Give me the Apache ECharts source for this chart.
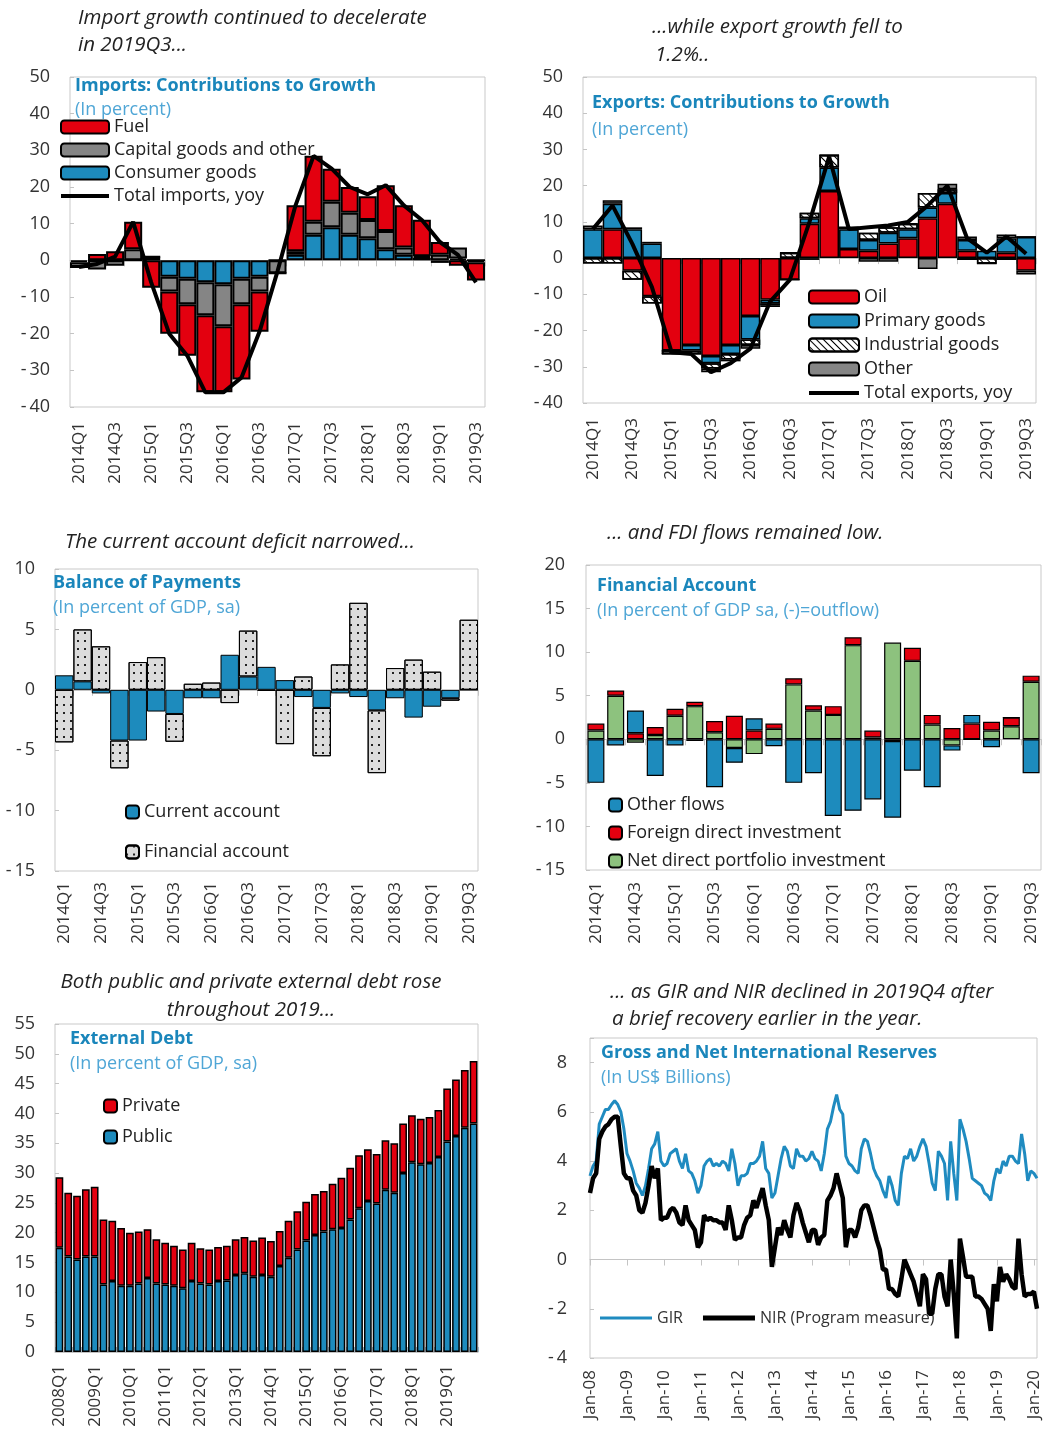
<!DOCTYPE html>
<html>
<head>
<meta charset="utf-8">
<script src="https://cdn.jsdelivr.net/npm/echarts@6/dist/echarts.min.js"></script>
<style>
  html, body { margin: 0; background: #fff; }
  #main { width: 1045px; height: 1437px; }
</style>
</head>
<body>
<div id="main"></div>
<script>
// quarterly categories for the four top panels
const quarters = ['2014Q1','2014Q2','2014Q3','2014Q4','2015Q1','2015Q2','2015Q3','2015Q4',
  '2016Q1','2016Q2','2016Q3','2016Q4','2017Q1','2017Q2','2017Q3','2017Q4',
  '2018Q1','2018Q2','2018Q3','2018Q4','2019Q1','2019Q2','2019Q3'];

// imports contributions
const impConsumer = [-0.5, 0, 0, 0, 1, -4.5, -5, -6, -6.5, -5, -4.5, 0, 1.5, 7, 9, 7, 6, 3, 1.5, 0.7, -0.7, 0.5, 0];
const impCapital  = [-1.3, -2.5, -1.5, 3, 0, -4, -7, -9, -11.5, -7, -4, -3.5, 1, 3.5, 7, 6, 5, 5, 2, 0.4, 1.5, 3, -0.5];
const impFuel     = [0, 1.7, 2.5, 7.5, -7.5, -11.5, -14, -21, -18, -20.5, -11, 0, 12.5, 18, 9, 7, 6.5, 12.5, 11.5, 10, 3.5, -1.5, -5];
const impTotal    = [-1.8, -1, 1, 10.5, -6, -20, -26, -36, -36, -32, -19.5, -3, 15, 28.5, 25, 20, 18, 20.5, 15, 11, 5, 1.5, -6];

// exports contributions
const expOil        = [0, 8, -3.5, -10.5, -25.5, -24, -27, -24, -16, -11.5, -6, 9.5, 18.5, 2.5, 2, 4, 5.5, 11, 15, 2, 0, 1.5, -3.5];
const expPrimary    = [8, 7, 8, 4, 0, -1.5, -2, -2.5, -6.5, -1, 0, 1.5, 6.5, 5.5, 3, 3, 2.5, 3, 3, 3, 2, 4, 5.8];
const expIndustrial = [-1.5, -1.5, -2.5, -2, -1, -1, -1.5, -1.5, -1.5, -0.5, 1.5, 1.5, 3.5, 0.5, 2, 1.5, 1.5, 4, 1, -0.5, -1.5, -0.5, 0];
const expOther      = [1, 1, 0.5, 0.5, 0, 0, -1, -0.5, -1, -0.5, 0, -0.5, 0, 0, -1, -1, 0, -3, 1.5, 1, 0, 1, -1];
const expTotal      = [8, 14.5, 4, -8, -26, -26.5, -31.5, -29, -25, -12, -6, 10, 28, 8, 8.5, 9, 10, 14.5, 20, 5.5, 1.5, 6, 1.2];

// balance of payments
const bopCurrent   = [1.2, 0.7, -0.3, -4.2, -4.2, -1.8, -2, -0.7, -0.7, 2.9, 1.1, 1.9, 0.8, -0.6, -1.5, -0.3, -0.6, -1.7, -0.7, -2.3, -1.4, -0.7, 0];
const bopFinancial = [-4.35, 4.3, 3.6, -2.3, 2.3, 2.7, -2.3, 0.5, 0.6, -1.1, 3.8, -0.1, -4.5, 1.1, -4, 2.1, 7.2, -5.2, 1.8, 2.5, 1.5, -0.2, 5.8];

// financial account
const faOther     = [-5, -0.7, 2.6, -4.2, -0.7, -0.2, -5.5, -1.7, 1.4, -0.8, -5, -3.9, -8.8, -8.2, -6.9, -8.8, -3.6, -5.5, -0.6, 1, -0.9, 0, -3.9];
const faFdi       = [0.8, 0.6, 0.7, 0.9, 0.8, 0.5, 1.3, 2.7, 1, 0.6, 0.7, 0.6, 1, 0.9, 0.8, -0.2, 1.5, 1.1, 1.3, 1.8, 1, 1, 0.7];
const faPortfolio = [1, 5, -0.4, 0.5, 2.7, 3.8, 0.8, -1, -1.7, 1.2, 6.3, 3.3, 2.8, 10.8, 0.2, 11.1, 9, 1.7, -0.7, 0, 1, 1.5, 6.6];

// external debt, 2008Q1 - 2019Q4
const debtQuarters = [];
for (let y = 2008; y <= 2019; y++) for (let q = 1; q <= 4; q++) debtQuarters.push(y + 'Q' + q);
const debtPublic = [17.5, 16, 15.5, 16, 16, 11.3, 11.9, 11.1, 11.1, 11.5, 12.4, 11.5,
  11.3, 11.1, 10.7, 11.9, 11.5, 11.3, 11.9, 12, 12.9, 13.2, 12.6, 12.9,
  12.6, 14.4, 15.8, 17.2, 18.7, 19.6, 20.2, 20.6, 20.8, 22.2, 24.1, 25.3,
  24.9, 27.2, 26.7, 30, 31.8, 31.5, 31.7, 32.7, 35.3, 36.2, 37.6, 38.3];
const debtPrivate = [11.8, 10.7, 10.7, 11.3, 11.7, 10.9, 10.1, 9.7, 8.9, 8.7, 8.2, 7.4,
  7.0, 6.7, 6.5, 6.4, 5.9, 5.9, 5.7, 5.8, 6.0, 6.1, 6.1, 6.3,
  6.0, 5.9, 6.2, 6.4, 6.5, 6.9, 6.8, 7.6, 8.4, 8.7, 8.9, 8.7,
  8.3, 8.3, 8.3, 8.3, 7.9, 7.6, 7.7, 7.9, 8.9, 9.5, 9.7, 10.5];

// reserves, monthly Jan-08 - Feb-20
const monthNames = ['Jan','Feb','Mar','Apr','May','Jun','Jul','Aug','Sep','Oct','Nov','Dec'];
const months = [];
for (let y = 8; y <= 20; y++) for (let m = 0; m < 12; m++) {
  if (months.length < 146) months.push(monthNames[m] + '-' + String(y).padStart(2, '0'));
}
const gir = [3.4,3.8,4.0,5.5,5.8,6.1,6.1,6.3,6.45,6.3,6.0,5.3,
  4.3,4.0,3.6,3.1,2.9,2.6,3.0,3.7,4.5,4.7,5.2,4.0,
  3.8,3.9,4.3,4.4,4.5,4.0,3.7,4.3,3.6,3.5,3.2,2.7,
  3.0,3.8,4.0,4.1,3.8,3.9,3.8,4.0,3.9,3.6,4.5,3.9,
  3.0,3.4,3.4,3.5,3.9,3.9,4.0,4.2,4.8,3.7,3.5,2.5,
  2.7,3.4,4.1,4.6,4.4,3.8,3.7,4.5,4.2,4.2,4.0,4.1,
  4.4,4.1,4.0,3.6,4.3,5.3,5.6,6.2,6.7,6.1,5.9,4.2,
  3.9,3.8,3.6,3.5,4.5,4.9,4.8,4.3,3.7,3.4,3.2,2.8,
  2.5,3.4,3.0,2.4,2.2,3.5,4.2,4.1,4.5,4.0,4.2,4.6,
  4.9,4.6,3.9,3.1,2.8,4.4,4.2,3.9,2.4,4.8,3.5,2.4,
  5.7,5.3,4.8,4.1,3.3,3.2,3.1,3.0,2.7,2.6,2.4,3.2,
  3.7,3.5,4.0,3.8,4.2,4.2,4.0,3.9,5.1,4.3,3.2,3.6,
  3.5,3.3];
const nir = [2.7,3.3,3.5,4.9,5.2,5.4,5.5,5.7,5.8,5.8,4.6,3.5,
  3.3,3.3,2.8,2.6,2.0,1.9,2.3,3.0,3.8,3.3,3.7,1.6,
  1.7,1.7,2.0,2.1,1.9,1.5,1.4,2.2,1.6,1.4,1.2,0.5,
  0.7,1.8,1.6,1.7,1.6,1.6,1.5,1.5,1.2,2.2,1.6,0.8,
  0.9,0.9,1.4,1.7,1.8,2.4,2.1,2.5,2.9,2.2,1.6,-0.3,
  0.5,1.3,1.0,1.6,1.2,0.9,1.8,2.3,2.0,1.5,1.1,0.7,
  1.2,1.2,0.6,0.9,1.0,2.4,2.6,2.9,3.5,3.0,2.5,0.5,
  1.2,1.2,0.9,1.3,2.0,2.2,2.2,1.8,1.3,0.8,0.4,-0.4,
  -0.4,-1.2,-1.2,-1.4,-1.5,-0.8,0.0,-0.3,-0.6,-0.9,-1.4,-1.9,
  -0.6,-0.8,-2.2,-2.2,-1.2,-0.6,-0.6,-1.5,-1.9,0.0,-1.4,-3.2,
  0.85,0.1,-0.7,-0.7,-0.7,-1.5,-1.5,-1.6,-1.8,-2.0,-2.9,-1.0,
  -1.7,-0.3,-0.9,-0.6,-0.8,-1.1,-1.2,0.85,-0.6,-1.5,-1.4,-1.4,
  -1.3,-2.0];

const FONT = '"Open Sans", sans-serif';
const TXT = '#333';
const RED = '#e3000f';
const BLUE = '#1d8bbd';
const GRAY = '#858585';
const GREEN = '#8dc27e';
const TITLE = '#1a86bb';
const SUB = '#4fa6d6';
const LINEGRAY = '#c4c4c4';

const chart = echarts.init(document.getElementById('main'));

// grids: left, top, width, height in px
const grids = [
  { left: 70,  top: 77,   width: 415, height: 330 },
  { left: 583, top: 77,   width: 453, height: 326 },
  { left: 55,  top: 569,  width: 423, height: 302 },
  { left: 586, top: 565,  width: 455, height: 305 },
  { left: 55,  top: 1024, width: 423, height: 328 },
  { left: 590, top: 1038, width: 447, height: 320 }
].map(g => Object.assign({ show: true, borderColor: '#c9c9c9', borderWidth: 1, containLabel: false }, g));

function labelAxis(gi, data, interval, margin, extra) {
  return Object.assign({
    type: 'category', gridIndex: gi, data: data,
    axisLine: { show: false, onZero: false },
    axisTick: { show: false },
    splitLine: { show: false },
    axisLabel: { rotate: 90, interval: interval, margin: margin, fontSize: 17, color: TXT, fontFamily: FONT }
  }, extra || {});
}
function zeroAxis(gi, data, tickInterval, extra) {
  return Object.assign({
    type: 'category', gridIndex: gi, data: data,
    axisLine: { show: true, onZero: true, lineStyle: { color: LINEGRAY, width: 1 } },
    axisTick: { show: true, inside: true, length: 6, interval: tickInterval, lineStyle: { color: LINEGRAY } },
    axisLabel: { show: false },
    splitLine: { show: false }
  }, extra || {});
}
// hyphen followed by a thin space, as in the source's tick labels
const signed = v => (v < 0 ? '-\u2009' + Math.abs(v) : String(v));
function valueAxis(gi, min, max, interval, margin, fmt) {
  return {
    type: 'value', gridIndex: gi, min: min, max: max, interval: interval,
    axisLine: { show: false },
    axisTick: { show: true, inside: true, length: 4, lineStyle: { color: LINEGRAY } },
    splitLine: { show: false },
    axisLabel: { fontSize: 18, color: TXT, margin: margin, fontFamily: FONT, formatter: fmt || signed }
  };
}

const xAxis = [
  labelAxis(0, quarters, 1, 15), zeroAxis(0, quarters, 0),
  labelAxis(1, quarters, 1, 15), zeroAxis(1, quarters, 0),
  labelAxis(2, quarters, 1, 11), zeroAxis(2, quarters, 0),
  labelAxis(3, quarters, 1, 12), zeroAxis(3, quarters, 0),
  {
    type: 'category', gridIndex: 4, data: debtQuarters,
    axisLine: { show: true, onZero: false, lineStyle: { color: LINEGRAY } },
    axisTick: { show: true, inside: true, length: 5, interval: 0, lineStyle: { color: '#9fb9c8' } },
    axisLabel: { rotate: 90, interval: 3, margin: 13, fontSize: 17, color: TXT, fontFamily: FONT }
  },
  labelAxis(5, months, 11, 12, { boundaryGap: false }),
  zeroAxis(5, months, 11, { boundaryGap: false })
];
const yAxis = [
  valueAxis(0, -40, 50, 10, 20),
  valueAxis(1, -40, 50, 10, 20),
  valueAxis(2, -15, 10, 5, 20),
  valueAxis(3, -15, 20, 5, 21),
  valueAxis(4, 0, 55, 5, 20),
  valueAxis(5, -4, 9, 2, 23, v => (v === 9 ? '' : signed(v)))
];

function bar(name, xi, stack, data, color, opts) {
  opts = opts || {};
  const item = { color: color, borderColor: '#000', borderWidth: opts.bw || 1.5 };
  if (opts.decal) item.decal = opts.decal;
  return {
    name: name, type: 'bar', xAxisIndex: xi, yAxisIndex: opts.yi, stack: stack, data: data,
    barCategoryGap: opts.gap || '0%', itemStyle: item, emphasis: { disabled: true }
  };
}
function line(name, xi, yi, data, color, width) {
  return {
    name: name, type: 'line', xAxisIndex: xi, yAxisIndex: yi, data: data, z: 5,
    symbol: 'none', lineStyle: { color: color, width: width }, itemStyle: { color: color },
    emphasis: { disabled: true }
  };
}

const hatch = { symbol: 'rect', symbolSize: 1, dashArrayX: [1, 0], dashArrayY: [1, 3.5], rotation: Math.PI / 4, color: '#000' };
const dots = { symbol: 'rect', symbolSize: 1, dashArrayX: [2, 5], dashArrayY: [2, 6], color: '#222' };

const series = [
  // imports
  bar('Consumer goods', 0, 'imp', impConsumer, BLUE, { yi: 0, bw: 2 }),
  bar('Capital goods and other', 0, 'imp', impCapital, GRAY, { yi: 0, bw: 2 }),
  bar('Fuel', 0, 'imp', impFuel, RED, { yi: 0, bw: 2 }),
  line('Total imports, yoy', 0, 0, impTotal, '#000', 4),
  // exports
  bar('Oil', 2, 'exp', expOil, RED, { yi: 1, bw: 1.5 }),
  bar('Primary goods', 2, 'exp', expPrimary, BLUE, { yi: 1, bw: 1.5 }),
  bar('Industrial goods', 2, 'exp', expIndustrial, '#fff', { yi: 1, bw: 1.5, decal: hatch }),
  bar('Other', 2, 'exp', expOther, GRAY, { yi: 1, bw: 1.5 }),
  line('Total exports, yoy', 2, 1, expTotal, '#000', 4),
  // balance of payments
  bar('Current account', 4, 'bop', bopCurrent, BLUE, { yi: 2, bw: 1 }),
  bar('Financial account', 4, 'bop', bopFinancial, '#dcdcdc', { yi: 2, bw: 1, decal: dots }),
  // financial account
  bar('Net direct portfolio investment', 6, 'fa', faPortfolio, GREEN, { yi: 3, bw: 1.2, gap: '14%' }),
  bar('Foreign direct investment', 6, 'fa', faFdi, RED, { yi: 3, bw: 1.2, gap: '14%' }),
  bar('Other flows', 6, 'fa', faOther, BLUE, { yi: 3, bw: 1.2, gap: '14%' }),
  // external debt
  bar('Public', 8, 'debt', debtPublic, BLUE, { yi: 4, bw: 1.5, gap: '12%' }),
  bar('Private', 8, 'debt', debtPrivate, RED, { yi: 4, bw: 1.5, gap: '12%' }),
  // reserves
  line('GIR', 9, 5, gir, '#1f8bc0', 3),
  line('NIR (Program measure)', 9, 5, nir, '#000', 4.5)
];

const lineIcon = (w, h) => 'path://M0,0H' + w + 'V' + h + 'H0Z';
const legTxt = { fontSize: 18, color: '#222', fontFamily: FONT };
const legBase = { selectedMode: false, padding: 0, textStyle: legTxt };
const legend = [
  Object.assign({}, legBase, { orient: 'vertical', left: 60, top: 118, itemWidth: 48, itemHeight: 13, itemGap: 5,
    data: ['Fuel', 'Capital goods and other', 'Consumer goods',
      { name: 'Total imports, yoy', icon: lineIcon(48, 4), itemStyle: { color: '#000', borderWidth: 0 } }] }),
  Object.assign({}, legBase, { orient: 'vertical', left: 808, top: 288, itemWidth: 50, itemHeight: 13, itemGap: 6,
    data: ['Oil', 'Primary goods', 'Industrial goods', 'Other',
      { name: 'Total exports, yoy', icon: lineIcon(50, 4), itemStyle: { color: '#000', borderWidth: 0 } }] }),
  Object.assign({}, legBase, { orient: 'vertical', left: 125, top: 803, itemWidth: 13, itemHeight: 13, itemGap: 22,
    data: ['Current account', 'Financial account'] }),
  Object.assign({}, legBase, { orient: 'vertical', left: 608, top: 796, itemWidth: 13, itemHeight: 13, itemGap: 10,
    data: ['Other flows', 'Foreign direct investment', 'Net direct portfolio investment'] }),
  Object.assign({}, legBase, { orient: 'vertical', left: 103, top: 1097, itemWidth: 13, itemHeight: 13, itemGap: 13,
    data: ['Private', 'Public'] }),
  Object.assign({}, legBase, { orient: 'horizontal', left: 600, top: 1310, itemWidth: 52, itemHeight: 14, itemGap: 20,
    textStyle: { fontSize: 16, color: '#333', fontFamily: FONT },
    data: [
      { name: 'GIR', icon: lineIcon(52, 3), itemStyle: { color: '#1f8bc0', borderWidth: 0 } },
      { name: 'NIR (Program measure)', icon: lineIcon(52, 5), itemStyle: { color: '#000', borderWidth: 0 } }
    ] })
];

function txt(x, y, text, font, color, align) {
  return { type: 'text', x: x, y: y, silent: true,
    style: { text: text, font: font, fill: color, textAlign: align || 'left', textVerticalAlign: 'middle',
      align: align || 'left', verticalAlign: 'middle' } };
}
const CAP = 'italic 20.5px ' + FONT;
const TTL = 'bold 18px ' + FONT;
const SBT = '18px ' + FONT;
const graphic = [
  txt(78, 18, 'Import growth continued to decelerate', CAP, '#222'),
  txt(78, 45, 'in 2019Q3...', CAP, '#222'),
  txt(75, 86, 'Imports: Contributions to Growth', TTL, TITLE),
  txt(75, 110, '(In percent)', SBT, SUB),

  txt(652, 27, '...while export growth fell to', CAP, '#222'),
  txt(655, 55, '1.2%..', CAP, '#222'),
  txt(592, 103, 'Exports: Contributions to Growth', TTL, TITLE),
  txt(592, 130, '(In percent)', SBT, SUB),

  txt(65, 542, 'The current account deficit narrowed...', CAP, '#222'),
  txt(53, 583, 'Balance of Payments', TTL, TITLE),
  txt(53, 608, '(In percent of GDP, sa)', SBT, SUB),

  txt(607, 533, '... and FDI flows remained low.', CAP, '#222'),
  txt(597, 586, 'Financial Account', TTL, TITLE),
  txt(597, 611, '(In percent of GDP sa, (-)=outflow)', SBT, SUB),

  txt(251, 982, 'Both public and private external debt rose', CAP, '#222', 'center'),
  txt(251, 1010, 'throughout 2019...', CAP, '#222', 'center'),
  txt(70, 1039, 'External Debt', TTL, TITLE),
  txt(70, 1064, '(In percent of GDP, sa)', SBT, SUB),

  txt(610, 992, '... as GIR and NIR declined in 2019Q4 after', CAP, '#222'),
  txt(612, 1019, 'a brief recovery earlier in the year.', CAP, '#222'),
  txt(601, 1053, 'Gross and Net International Reserves', TTL, TITLE),
  txt(601, 1078, '(In US$ Billions)', SBT, SUB)
];

chart.setOption({
  backgroundColor: '#ffffff',
  animation: false,
  textStyle: { fontFamily: FONT },
  grid: grids,
  xAxis: xAxis,
  yAxis: yAxis,
  legend: legend,
  series: series,
  graphic: graphic
});
</script>
</body>
</html>
